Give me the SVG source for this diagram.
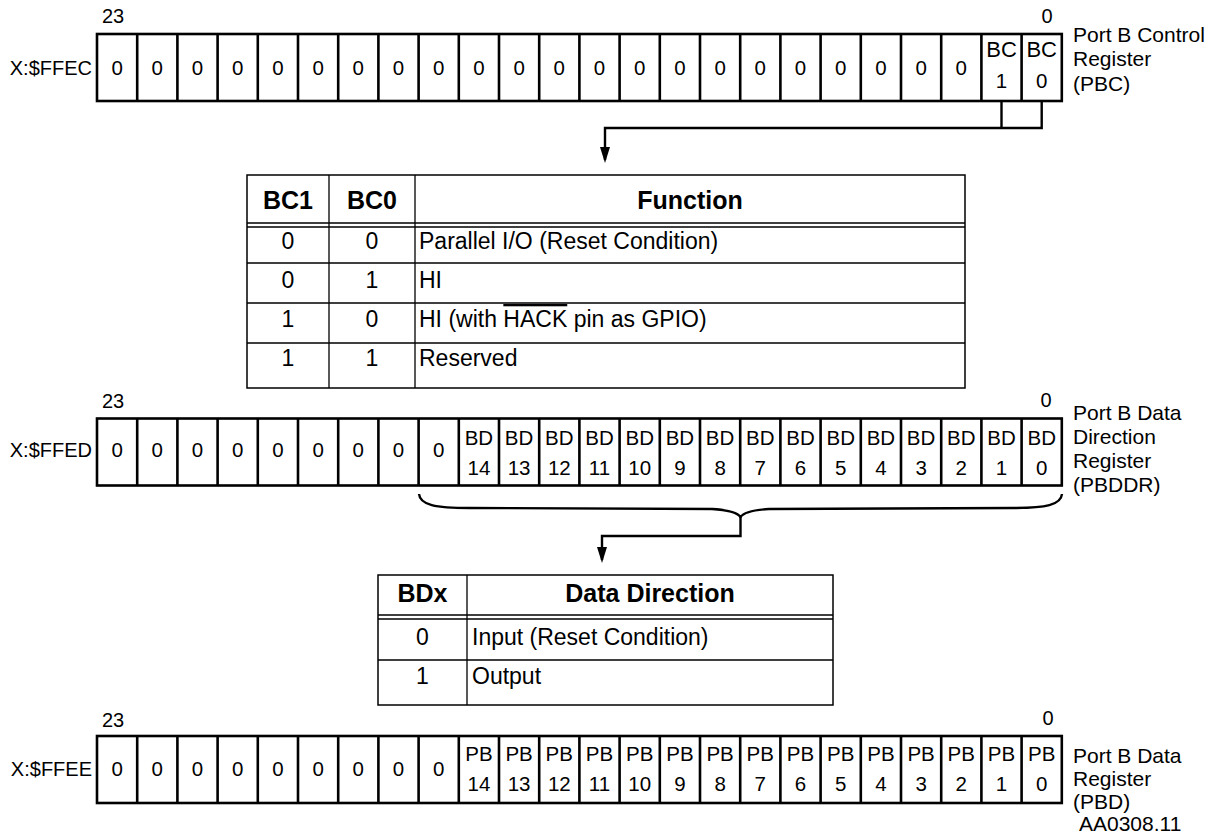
<svg xmlns="http://www.w3.org/2000/svg" xmlns:xlink="http://www.w3.org/1999/xlink" width="1212" height="834" viewBox="0 0 1212 834">
<style>
text{font-family:"Liberation Sans",Arial,Helvetica,sans-serif;fill:#000}
.reg{fill:#fff;stroke:#000;stroke-width:2.6}
.div{fill:none;stroke:#000;stroke-width:2.6}
.c{font-size:20.5px;text-anchor:middle}
.bc{font-size:22px;text-anchor:middle}
.lbl{font-size:20px;text-anchor:end}
.rl{font-size:21px}
.bit{font-size:20px}
.bitr{font-size:20px;text-anchor:middle}
.tb{fill:#fff;stroke:#000;stroke-width:1.5}
.tl{fill:none;stroke:#000;stroke-width:1.3}
.th{font-size:25px;font-weight:bold;text-anchor:middle}
.td{font-size:23px}
.tdc{font-size:23px;text-anchor:middle}
.conn{fill:none;stroke:#000;stroke-width:2.4}
</style>
<defs>
<marker id="arrow" markerUnits="userSpaceOnUse" viewBox="0 0 16 10" refX="13" refY="5" markerWidth="16" markerHeight="10" orient="auto">
<path d="M0,0 L16,5 L0,10 z" fill="#000"/>
</marker>
<g id="regframe">
<rect class="reg" x="97" y="0" width="964.8" height="67"/>
<path class="div" d="M137.2 0v67m40.2 -67v67m40.2 -67v67m40.2 -67v67m40.2 -67v67m40.2 -67v67m40.2 -67v67m40.2 -67v67m40.2 -67v67m40.2 -67v67m40.2 -67v67m40.2 -67v67m40.2 -67v67m40.2 -67v67m40.2 -67v67m40.2 -67v67m40.2 -67v67m40.2 -67v67m40.2 -67v67m40.2 -67v67m40.2 -67v67m40.2 -67v67m40.2 -67v67"/>
</g>
</defs>
<rect width="1212" height="834" fill="#fff"/>

<g id="connectors">
<path class="conn" d="M1001.5 101V128"/>
<path class="conn" d="M1041.7 101V128H605V160" marker-end="url(#arrow)"/>
<path class="conn" d="M419 494C420 505 435 508 470 508L712 509C728 510 737 512 740.5 517C744 512 753 510 769 509L1012 508C1046 508 1061 505 1062 494"/>
<path class="conn" d="M740.5 517V536H602V560" marker-end="url(#arrow)"/>
</g>

<g id="pbc-register">
<use xlink:href="#regframe" href="#regframe" y="34"/>
<text class="lbl" x="92" y="75">X:$FFEC</text>
<text class="bit" x="102" y="23">23</text>
<text class="bitr" x="1047" y="23">0</text>
<text class="c" x="117.1" y="75">0</text>
<text class="c" x="157.3" y="75">0</text>
<text class="c" x="197.5" y="75">0</text>
<text class="c" x="237.7" y="75">0</text>
<text class="c" x="277.9" y="75">0</text>
<text class="c" x="318.1" y="75">0</text>
<text class="c" x="358.3" y="75">0</text>
<text class="c" x="398.5" y="75">0</text>
<text class="c" x="438.7" y="75">0</text>
<text class="c" x="478.9" y="75">0</text>
<text class="c" x="519.1" y="75">0</text>
<text class="c" x="559.3" y="75">0</text>
<text class="c" x="599.5" y="75">0</text>
<text class="c" x="639.7" y="75">0</text>
<text class="c" x="679.9" y="75">0</text>
<text class="c" x="720.1" y="75">0</text>
<text class="c" x="760.3" y="75">0</text>
<text class="c" x="800.5" y="75">0</text>
<text class="c" x="840.7" y="75">0</text>
<text class="c" x="880.9" y="75">0</text>
<text class="c" x="921.1" y="75">0</text>
<text class="c" x="961.3" y="75">0</text>
<text class="bc" x="1001.5" y="57">BC</text>
<text class="c" x="1001.5" y="88">1</text>
<text class="bc" x="1041.7" y="57">BC</text>
<text class="c" x="1041.7" y="88">0</text>
<text class="rl" x="1073" y="42">Port B Control</text>
<text class="rl" x="1073" y="66">Register</text>
<text class="rl" x="1073" y="91">(PBC)</text>
</g>

<g id="pbc-table">
<rect class="tb" x="247" y="175" width="718" height="213"/>
<path class="tl" d="M329 175V388M415 175V388M247 223H965M247 227H965M247 263H965M247 303H965M247 343H965"/>
<text class="th" x="288" y="209">BC1</text>
<text class="th" x="372" y="209">BC0</text>
<text class="th" x="690" y="209">Function</text>
<text class="tdc" x="288" y="249">0</text>
<text class="tdc" x="372" y="249">0</text>
<text class="td" x="419" y="249">Parallel I/O (Reset Condition)</text>
<text class="tdc" x="288" y="288">0</text>
<text class="tdc" x="372" y="288">1</text>
<text class="td" x="419" y="288">HI</text>
<text class="tdc" x="288" y="327">1</text>
<text class="tdc" x="372" y="327">0</text>
<text class="td" x="419" y="327">HI (with <tspan style="text-decoration:overline">HACK</tspan> pin as GPIO)</text>
<text class="tdc" x="288" y="366">1</text>
<text class="tdc" x="372" y="366">1</text>
<text class="td" x="419" y="366">Reserved</text>
</g>

<g id="pbddr-register">
<use xlink:href="#regframe" href="#regframe" y="418.5"/>
<text class="lbl" x="92" y="457">X:$FFED</text>
<text class="bit" x="102" y="408">23</text>
<text class="bitr" x="1046" y="407">0</text>
<text class="c" x="117.1" y="457">0</text>
<text class="c" x="157.3" y="457">0</text>
<text class="c" x="197.5" y="457">0</text>
<text class="c" x="237.7" y="457">0</text>
<text class="c" x="277.9" y="457">0</text>
<text class="c" x="318.1" y="457">0</text>
<text class="c" x="358.3" y="457">0</text>
<text class="c" x="398.5" y="457">0</text>
<text class="c" x="438.7" y="457">0</text>
<text class="c" x="478.9" y="445">BD</text><text class="c" x="478.9" y="475">14</text>
<text class="c" x="519.1" y="445">BD</text><text class="c" x="519.1" y="475">13</text>
<text class="c" x="559.3" y="445">BD</text><text class="c" x="559.3" y="475">12</text>
<text class="c" x="599.5" y="445">BD</text><text class="c" x="599.5" y="475">11</text>
<text class="c" x="639.7" y="445">BD</text><text class="c" x="639.7" y="475">10</text>
<text class="c" x="679.9" y="445">BD</text><text class="c" x="679.9" y="475">9</text>
<text class="c" x="720.1" y="445">BD</text><text class="c" x="720.1" y="475">8</text>
<text class="c" x="760.3" y="445">BD</text><text class="c" x="760.3" y="475">7</text>
<text class="c" x="800.5" y="445">BD</text><text class="c" x="800.5" y="475">6</text>
<text class="c" x="840.7" y="445">BD</text><text class="c" x="840.7" y="475">5</text>
<text class="c" x="880.9" y="445">BD</text><text class="c" x="880.9" y="475">4</text>
<text class="c" x="921.1" y="445">BD</text><text class="c" x="921.1" y="475">3</text>
<text class="c" x="961.3" y="445">BD</text><text class="c" x="961.3" y="475">2</text>
<text class="c" x="1001.5" y="445">BD</text><text class="c" x="1001.5" y="475">1</text>
<text class="c" x="1041.7" y="445">BD</text><text class="c" x="1041.7" y="475">0</text>
<text class="rl" x="1073" y="420">Port B Data</text>
<text class="rl" x="1073" y="444">Direction</text>
<text class="rl" x="1073" y="468">Register</text>
<text class="rl" x="1073" y="492">(PBDDR)</text>
</g>

<g id="pbddr-table">
<rect class="tb" x="378" y="575" width="455" height="130"/>
<path class="tl" d="M467 575V705M378 615H833M378 619H833M378 660H833"/>
<text class="th" x="422.5" y="602">BDx</text>
<text class="th" x="650" y="602">Data Direction</text>
<text class="tdc" x="422.5" y="645">0</text>
<text class="td" x="472" y="645">Input (Reset Condition)</text>
<text class="tdc" x="422.5" y="684">1</text>
<text class="td" x="472" y="684">Output</text>
</g>

<g id="pbd-register">
<use xlink:href="#regframe" href="#regframe" y="736"/>
<text class="lbl" x="92" y="776">X:$FFEE</text>
<text class="bit" x="102" y="727">23</text>
<text class="bitr" x="1048" y="725">0</text>
<text class="c" x="117.1" y="776">0</text>
<text class="c" x="157.3" y="776">0</text>
<text class="c" x="197.5" y="776">0</text>
<text class="c" x="237.7" y="776">0</text>
<text class="c" x="277.9" y="776">0</text>
<text class="c" x="318.1" y="776">0</text>
<text class="c" x="358.3" y="776">0</text>
<text class="c" x="398.5" y="776">0</text>
<text class="c" x="438.7" y="776">0</text>
<text class="c" x="478.9" y="761">PB</text><text class="c" x="478.9" y="791">14</text>
<text class="c" x="519.1" y="761">PB</text><text class="c" x="519.1" y="791">13</text>
<text class="c" x="559.3" y="761">PB</text><text class="c" x="559.3" y="791">12</text>
<text class="c" x="599.5" y="761">PB</text><text class="c" x="599.5" y="791">11</text>
<text class="c" x="639.7" y="761">PB</text><text class="c" x="639.7" y="791">10</text>
<text class="c" x="679.9" y="761">PB</text><text class="c" x="679.9" y="791">9</text>
<text class="c" x="720.1" y="761">PB</text><text class="c" x="720.1" y="791">8</text>
<text class="c" x="760.3" y="761">PB</text><text class="c" x="760.3" y="791">7</text>
<text class="c" x="800.5" y="761">PB</text><text class="c" x="800.5" y="791">6</text>
<text class="c" x="840.7" y="761">PB</text><text class="c" x="840.7" y="791">5</text>
<text class="c" x="880.9" y="761">PB</text><text class="c" x="880.9" y="791">4</text>
<text class="c" x="921.1" y="761">PB</text><text class="c" x="921.1" y="791">3</text>
<text class="c" x="961.3" y="761">PB</text><text class="c" x="961.3" y="791">2</text>
<text class="c" x="1001.5" y="761">PB</text><text class="c" x="1001.5" y="791">1</text>
<text class="c" x="1041.7" y="761">PB</text><text class="c" x="1041.7" y="791">0</text>
<text class="rl" x="1073" y="763">Port B Data</text>
<text class="rl" x="1073" y="786">Register</text>
<text class="rl" x="1073" y="809">(PBD)</text>
<text class="rl" x="1079" y="831">AA0308.11</text>
</g>
</svg>
